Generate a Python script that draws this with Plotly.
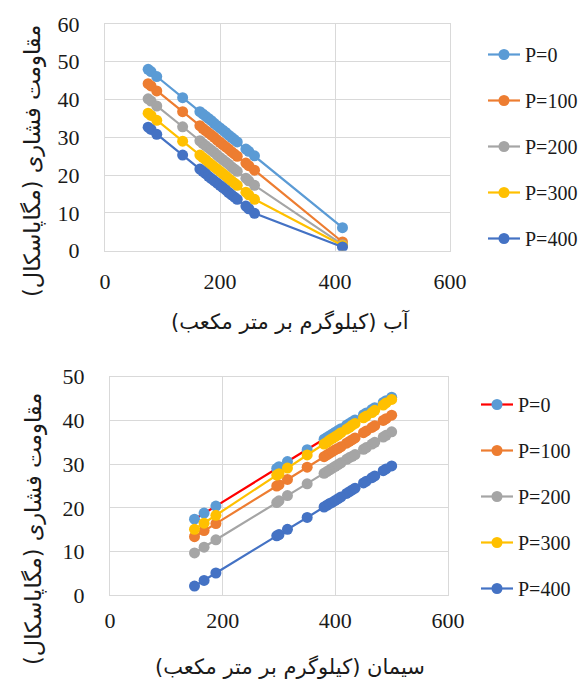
import plotly.graph_objects as go

# Water content (kg/m3) and compressive strength (MPa) for each pressure level
water = [75, 80, 90, 135, 165, 170, 175, 180, 185, 190, 195, 200, 205, 210,
         215, 220, 225, 230, 245, 250, 260, 413]
water_p0 = [48.0, 47.4, 46.1, 40.5, 36.8, 36.2, 35.6, 35.0, 34.4, 33.7, 33.1,
            32.5, 31.9, 31.3, 30.6, 30.0, 29.4, 28.8, 26.9, 26.3, 25.1, 6.1]
water_p100 = [44.2, 43.6, 42.3, 36.8, 33.1, 32.4, 31.8, 31.2, 30.6, 30.0, 29.3,
              28.7, 28.1, 27.5, 26.9, 26.2, 25.6, 25.0, 23.2, 22.5, 21.3, 2.3]
water_p200 = [40.2, 39.6, 38.3, 32.8, 29.1, 28.4, 27.8, 27.2, 26.6, 26.0, 25.3,
              24.7, 24.1, 23.5, 22.9, 22.2, 21.6, 21.0, 19.2, 18.5, 17.3, 1.6]
water_p300 = [36.4, 35.8, 34.5, 29.0, 25.3, 24.7, 24.1, 23.4, 22.8, 22.2, 21.6,
              21.0, 20.4, 19.8, 19.1, 18.5, 17.9, 17.3, 15.5, 14.8, 13.6, 1.4]
water_p400 = [32.7, 32.1, 30.8, 25.3, 21.6, 21.0, 20.4, 19.7, 19.1, 18.5, 17.9,
              17.3, 16.7, 16.1, 15.4, 14.8, 14.2, 13.6, 11.8, 11.1, 9.9, 1.0]

# Cement content (kg/m3) and compressive strength (MPa)
cement = [150, 167, 188, 296, 300, 315, 350, 380, 385, 390, 395, 400, 405, 410,
          420, 425, 430, 435, 450, 455, 465, 470, 485, 490, 500]
cement_p0 = [17.4, 18.8, 20.4, 29.0, 29.4, 30.6, 33.3, 35.7, 36.1, 36.5, 36.9,
             37.3, 37.7, 38.1, 38.9, 39.3, 39.7, 40.1, 41.3, 41.7, 42.5, 42.9,
             44.1, 44.5, 45.3]
cement_p100 = [13.4, 14.8, 16.4, 25.0, 25.3, 26.5, 29.3, 31.7, 32.1, 32.5, 32.9,
               33.3, 33.6, 34.0, 34.8, 35.2, 35.6, 36.0, 37.2, 37.6, 38.4, 38.8,
               40.0, 40.4, 41.2]
cement_p200 = [9.7, 11.0, 12.7, 21.2, 21.6, 22.8, 25.5, 27.9, 28.3, 28.7, 29.1,
               29.5, 29.9, 30.3, 31.1, 31.5, 31.8, 32.2, 33.4, 33.8, 34.6, 35.0,
               36.2, 36.6, 37.4]
cement_p300 = [15.1, 16.5, 18.3, 27.5, 27.8, 29.1, 32.1, 34.6, 35.0, 35.5, 35.9,
               36.3, 36.7, 37.2, 38.0, 38.4, 38.9, 39.3, 40.6, 41.0, 41.8, 42.3,
               43.5, 44.0, 44.8]
cement_p400 = [2.1, 3.4, 5.1, 13.6, 13.9, 15.1, 17.8, 20.2, 20.6, 21.0, 21.3,
               21.7, 22.1, 22.5, 23.3, 23.7, 24.1, 24.5, 25.7, 26.1, 26.9, 27.3,
               28.5, 28.9, 29.6]

names = ["P=0", "P=100", "P=200", "P=300", "P=400"]
marker_colors = ["#5B9BD5", "#ED7D31", "#A5A5A5", "#FFC000", "#4472C4"]
water_lines = ["#5B9BD5", "#ED7D31", "#A5A5A5", "#FFC000", "#4472C4"]
cement_lines = ["#FF0000", "#ED7D31", "#A5A5A5", "#FFC000", "#4472C4"]

W, H = 581, 690
ink = "#1a1a1a"
serif = "Liberation Serif"
fa_font = "DejaVu Sans"

fig = go.Figure()

water_series = [water_p0, water_p100, water_p200, water_p300, water_p400]
for i, ys in enumerate(water_series):
    fig.add_trace(go.Scatter(
        x=water, y=ys, name=names[i], mode="lines+markers",
        line=dict(color=water_lines[i], width=2.2),
        marker=dict(color=marker_colors[i], size=11),
        xaxis="x", yaxis="y", legend="legend", legendgroup="w%d" % i,
    ))

cement_series = [cement_p0, cement_p100, cement_p200, cement_p300, cement_p400]
for i, ys in enumerate(cement_series):
    fig.add_trace(go.Scatter(
        x=cement, y=ys, name=names[i], mode="lines+markers",
        line=dict(color=cement_lines[i], width=2.2),
        marker=dict(color=marker_colors[i], size=11),
        xaxis="x2", yaxis="y2", legend="legend2", legendgroup="c%d" % i,
    ))

grid = "#d9d9d9"
tick_font = dict(family=serif, size=22, color=ink)


def xax(domain, anchor, ticklen):
    return dict(domain=domain, anchor=anchor, range=[0, 600], dtick=200,
                showgrid=True, gridcolor=grid, gridwidth=1, zeroline=False,
                showline=True, linecolor=grid, mirror=True,
                ticks="outside", ticklen=ticklen, tickcolor="rgba(0,0,0,0)",
                tickfont=tick_font)


def yax(domain, anchor, top, step):
    return dict(domain=domain, anchor=anchor, range=[0, top], dtick=step,
                showgrid=True, gridcolor=grid, gridwidth=1, zeroline=False,
                showline=True, linecolor=grid, mirror=True,
                ticks="outside", ticklen=20, tickcolor="rgba(0,0,0,0)",
                tickfont=tick_font)


def legend_box(x, y):
    return dict(x=x / W, y=1 - y / H, font=dict(family=serif, size=20, color=ink),
                bgcolor="rgba(0,0,0,0)", tracegroupgap=17,
                traceorder="grouped", itemwidth=32,
                xanchor="left", yanchor="top")


def title_note(text, x, y, angle=0, size=21):
    return dict(text=text, x=x / W, y=1 - y / H, xref="paper", yref="paper",
                xanchor="center", yanchor="middle", showarrow=False,
                textangle=angle, font=dict(family=fa_font, size=size, color=ink))


fig.update_layout(
    width=W, height=H,
    margin=dict(l=0, r=0, t=0, b=0, autoexpand=False),
    paper_bgcolor="white", plot_bgcolor="white",
    font=dict(family=serif),
    showlegend=True,
    xaxis=xax([105 / W, 450 / W], "y", 11),
    yaxis=yax([1 - 250.7 / H, 1 - 24 / H], "x", 60, 10),
    xaxis2=xax([110 / W, 448 / W], "y2", 5),
    yaxis2=yax([1 - 595.3 / H, 1 - 376.7 / H], "x2", 50, 10),
    legend=legend_box(483, 35),
    legend2=legend_box(476, 385),
    annotations=[
        title_note("آب (کیلوگرم بر متر مکعب)", 290, 321),
        title_note("سیمان (کیلوگرم بر متر مکعب)", 290, 667),
        title_note("مقاومت فشاری (مگاپاسکال)", 32, 161, -90, 22.5),
        title_note("مقاومت فشاری (مگاپاسکال)", 33, 529, -90, 22.5),
    ],
)

fig.write_html("out.html")
